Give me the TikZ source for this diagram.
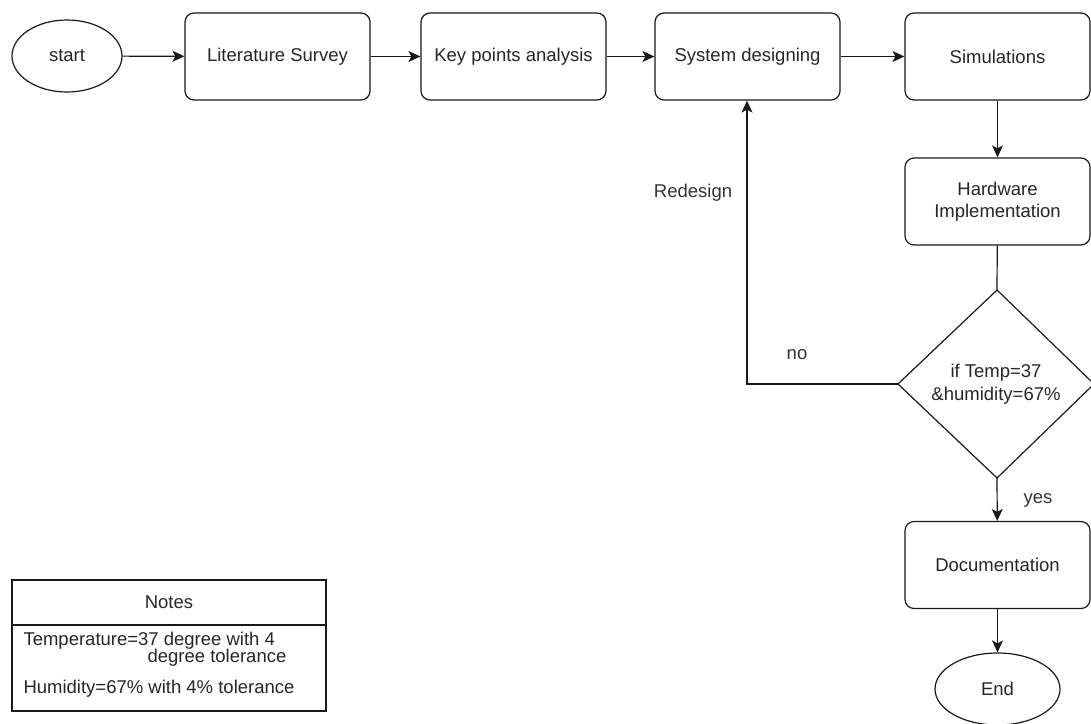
\documentclass[tikz,border=0pt]{standalone}
\usepackage{fontspec}
\setmainfont{Liberation Sans}
\usetikzlibrary{shapes.geometric,arrows.meta}
\begin{document}
\begin{tikzpicture}[x=1pt,y=-1pt,
  every node/.style={font=\fontsize{18.5}{22.5}\selectfont, text=black!85},
  box/.style={draw=black!90, line width=1.2pt, rounded corners=9pt, minimum width=185pt, minimum height=87pt, align=center, fill=white},
  oval/.style={draw=black!90, line width=1.2pt, ellipse, minimum width=110pt, minimum height=72pt, fill=white},
  conn/.style={draw=black!90, line width=1.2pt},
  arr/.style={conn, -{Stealth[length=12pt,width=11pt,inset=3pt]}},
  lbl/.style={text=black!80}
]
\useasboundingbox (0,0) rectangle (1091,723);
\node[oval] (start) at (67,56) {start};
\node[box] (lit) at (277.5,56.5) {Literature Survey};
\node[box] (key) at (513.5,56.5) {Key points analysis};
\node[box] (sys) at (747.5,56.5) {System designing};
\node[box] (sim) at (997.5,56.5) {Simulations};
\node[box] (hw) at (997.5,201.5) {Hardware\\Implementation};
\path[conn] (997,290) coordinate (dtop) -- (1094,384) coordinate (dright) -- (997,478) coordinate (dbot) -- (898,384) coordinate (dleft) -- cycle;
\node[inner sep=0pt, align=center] (dc) at (996,384) {if Temp=37\\\&humidity=67\%};
\node[box] (doc) at (997.5,565) {Documentation};
\node[oval, minimum width=125pt, minimum height=72pt] (end) at (997.5,689) {End};
\coordinate (corner) at (747,384);
\draw[arr] (start) -- (lit);
\draw[arr] (lit) -- (key);
\draw[arr] (key) -- (sys);
\draw[arr] (sys) -- (sim);
\draw[arr] (sim) -- (hw);
\draw[conn] (hw) -- (dtop);
\draw[arr] (dleft) -- (corner) -- (sys.south -| corner);
\draw[arr] (dbot) -- (doc);
\draw[arr] (doc) -- (end);
\node[lbl] (redesign) at (693,193) {Redesign};
\node[lbl] (no) at (797,355) {no};
\node[lbl] (yes) at (1038,500) {yes};
% Notes
\node[draw=black!90, line width=1.2pt, minimum width=314pt, minimum height=45pt, fill=white] (nh) at (169,602.5) {Notes};
\draw[black!90, line width=1.2pt] (12,625) rectangle (326,711);
\node[anchor=west] (n1) at (20,641) {Temperature=37 degree with 4};
\node[anchor=west] (n2) at (144,658) {degree tolerance};
\node[anchor=west] (n3) at (20,689) {Humidity=67\% with 4\% tolerance};
\end{tikzpicture}
\end{document}
